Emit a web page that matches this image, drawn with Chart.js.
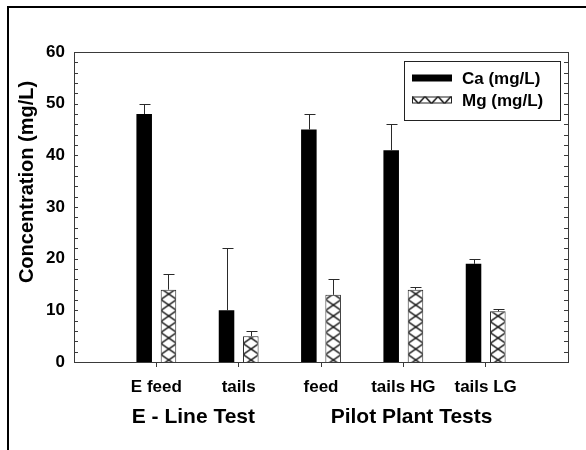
<!DOCTYPE html>
<html>
<head>
<meta charset="utf-8">
<script src="https://cdn.jsdelivr.net/npm/chart.js@4.4.1/dist/chart.umd.min.js"></script>
<style>
  html, body { margin: 0; padding: 0; background: #fff; }
</style>
</head>
<body>
<canvas id="myChart" width="586" height="450"></canvas>
<script>
// categories (blank slots at both ends keep the axis range 0..6)
const labels = ['', 'E feed', 'tails', 'feed', 'tails HG', 'tails LG', ''];
const caValues = [null, 48, 10, 45, 41, 19, null];
const mgValues = [null, 14, 5, 13, 14, 9.8, null];
// upper error (added on top of the bar)
const caErrors = [null, 2, 12, 3, 5, 1, null];
const mgErrors = [null, 3, 1, 3, 0.5, 0.4, null];
const groupNames = ['E - Line Test', 'Pilot Plant Tests'];
const groupAt = [1.45, 4.1];
const yMax = 60;
const yStep = 10;
const yMinorStep = 2;

const FONT = 'Liberation Sans, Arial, sans-serif';
const INK = '#000';
const AXIS = '#3a3a3a';

function hatchTile(w, h) {
  const c = document.createElement('canvas');
  c.width = w; c.height = h;
  const g = c.getContext('2d');
  g.fillStyle = '#fff';
  g.fillRect(0, 0, w, h);
  g.strokeStyle = '#000';
  g.lineWidth = 1.4;
  g.beginPath();
  g.moveTo(-1, -h / w); g.lineTo(w + 1, h + h / w);
  g.moveTo(w + 1, -h / w); g.lineTo(-1, h + h / w);
  g.stroke();
  return c;
}
const barTile = hatchTile(16, 11);
const keyTile = hatchTile(13, 14);

function pattern(ctx, tile, x, y) {
  const p = ctx.createPattern(tile, 'repeat');
  p.setTransform(new DOMMatrix().translate(x, y));
  return p;
}

const extras = {
  id: 'extras',
  beforeDraw(chart) {
    const ctx = chart.ctx;
    // outer frame
    ctx.save();
    ctx.strokeStyle = INK;
    ctx.lineWidth = 2;
    ctx.beginPath();
    ctx.moveTo(8, 450);
    ctx.lineTo(8, 7);
    ctx.lineTo(586, 7);
    ctx.stroke();
    ctx.restore();
  },
  beforeDatasetsDraw(chart) {
    // hatch fill anchored to each Mg bar
    const meta = chart.getDatasetMeta(1);
    meta.data.forEach(el => {
      if (el.skip || el.width == null) return;
      const x0 = el.x - el.width / 2;
      const y0 = el.base - 2 - 5.5;
      el.options = Object.assign({}, el.options, {
        backgroundColor: pattern(chart.ctx, barTile, x0, y0)
      });
    });
  },
  afterDatasetsDraw(chart) {
    const ctx = chart.ctx;
    const y = chart.scales.y;
    const a = chart.chartArea;
    ctx.save();
    // error bars
    ctx.strokeStyle = '#2a2a2a';
    ctx.lineWidth = 1;
    [caErrors, mgErrors].forEach((errs, di) => {
      const meta = chart.getDatasetMeta(di);
      const vals = chart.data.datasets[di].data;
      meta.data.forEach((el, i) => {
        if (vals[i] == null || errs[i] == null) return;
        const x = Math.round(el.x) + 0.5;
        const top = Math.round(y.getPixelForValue(vals[i] + errs[i])) + 0.5;
        ctx.beginPath();
        ctx.moveTo(x, el.y);
        ctx.lineTo(x, top);
        ctx.moveTo(x - 5, top);
        ctx.lineTo(x + 6, top);
        ctx.stroke();
      });
    });
    // plot frame
    ctx.strokeStyle = AXIS;
    ctx.strokeRect(a.left + 0.5, a.top + 0.5, a.right - a.left, a.bottom - a.top);
    // inward ticks on left and right
    ctx.beginPath();
    for (let v = 0; v <= yMax; v += yMinorStep) {
      const py = Math.round(y.getPixelForValue(v)) + 0.5;
      ctx.moveTo(a.left, py); ctx.lineTo(a.left + 4, py);
      ctx.moveTo(a.right, py); ctx.lineTo(a.right - 4, py);
    }
    ctx.stroke();
    ctx.restore();
  },
  afterDraw(chart) {
    const ctx = chart.ctx;
    const xs = chart.scales.x;
    ctx.save();
    ctx.fillStyle = INK;
    ctx.textBaseline = 'middle';
    // y-axis title
    ctx.save();
    ctx.translate(27, 182);
    ctx.rotate(-Math.PI / 2);
    ctx.textAlign = 'center';
    ctx.font = 'bold 20px ' + FONT;
    ctx.fillText('Concentration (mg/L)', 0, 0);
    ctx.restore();
    // group labels under the categories
    ctx.textAlign = 'center';
    ctx.font = 'bold 21px ' + FONT;
    groupNames.forEach((g, i) => {
      ctx.fillText(g, xs.getPixelForValue(groupAt[i]), 417);
    });
    // legend
    const bx = 404, by = 61, bw = 156, bh = 59;
    ctx.strokeStyle = '#222';
    ctx.lineWidth = 1;
    ctx.strokeRect(bx + 0.5, by + 0.5, bw, bh);
    const rows = [78, 100];
    chart.data.datasets.forEach((ds, i) => {
      const sy = rows[i] - 3.5;
      if (i === 0) {
        ctx.fillStyle = ds.backgroundColor;
      } else {
        ctx.fillStyle = pattern(ctx, keyTile, 412, sy);
      }
      ctx.fillRect(412, sy, 40, 7);
      if (i === 1) {
        ctx.strokeStyle = '#222';
        ctx.strokeRect(412.5, sy + 0.5, 39, 6);
      }
      ctx.fillStyle = INK;
      ctx.textAlign = 'left';
      ctx.font = 'bold 17px ' + FONT;
      ctx.fillText(ds.label, 462, rows[i] + 1);
    });
    ctx.restore();
  }
};

new Chart(document.getElementById('myChart'), {
  type: 'bar',
  data: {
    labels: labels,
    datasets: [
      {
        label: 'Ca (mg/L)',
        data: caValues,
        backgroundColor: '#000',
        borderColor: '#222',
        borderWidth: 0,
        categoryPercentage: 0.59,
        barPercentage: 0.64
      },
      {
        label: 'Mg (mg/L)',
        data: mgValues,
        backgroundColor: '#fff',
        borderColor: '#222',
        borderWidth: 1,
        categoryPercentage: 0.59,
        barPercentage: 0.64
      }
    ]
  },
  options: {
    responsive: false,
    animation: false,
    layout: { padding: { left: 8, right: 18, top: 52, bottom: 48 } },
    plugins: {
      legend: { display: false },
      tooltip: { enabled: false }
    },
    scales: {
      x: {
        type: 'category',
        offset: false,
        grid: {
          offset: false,
          drawOnChartArea: false,
          tickLength: 5,
          tickColor: c => (labels[c.index] ? AXIS : 'rgba(0,0,0,0)')
        },
        border: { display: true, color: AXIS },
        ticks: {
          autoSkip: false,
          maxRotation: 0,
          padding: 10,
          color: INK,
          font: { family: FONT, size: 17, weight: 'bold' }
        },
        afterFit: s => { s.height = 40; }
      },
      y: {
        min: 0,
        max: yMax,
        grid: { display: false, drawTicks: false },
        border: { display: true, color: AXIS },
        ticks: {
          stepSize: yStep,
          padding: 9,
          color: INK,
          font: { family: FONT, size: 17, weight: 'bold' }
        },
        afterFit: s => { s.width = 66; }
      }
    }
  },
  plugins: [extras]
});
</script>
</body>
</html>
